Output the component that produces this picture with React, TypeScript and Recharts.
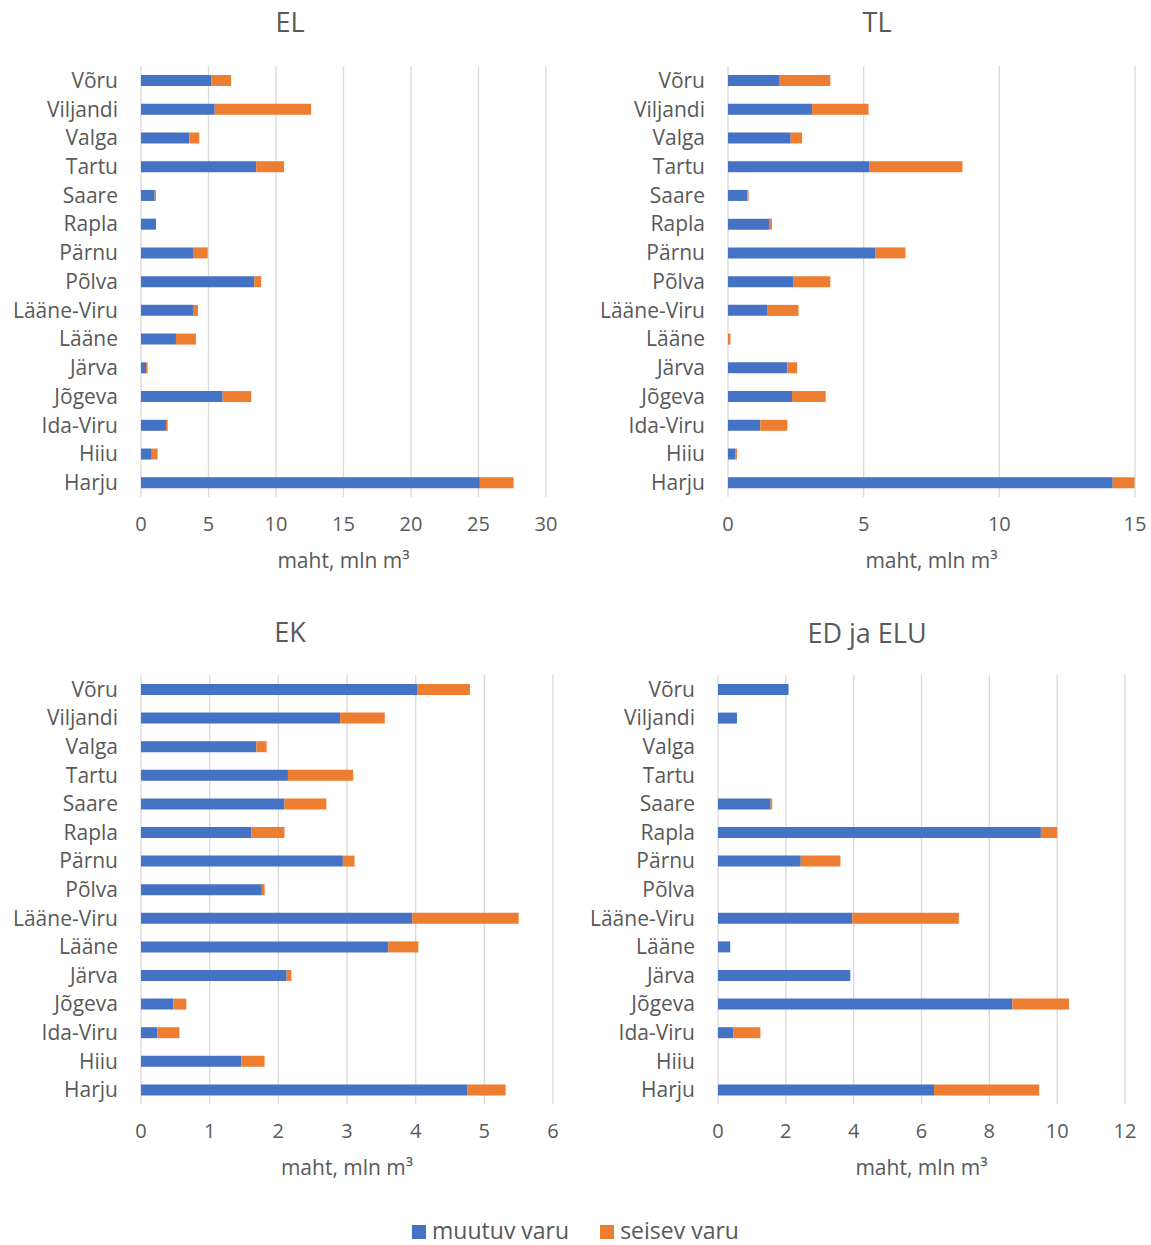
import { BarChart, Bar, XAxis, YAxis, CartesianGrid } from 'recharts';

// maakonnad ülevalt alla
const categories = [
  'Võru', 'Viljandi', 'Valga', 'Tartu', 'Saare', 'Rapla', 'Pärnu', 'Põlva',
  'Lääne-Viru', 'Lääne', 'Järva', 'Jõgeva', 'Ida-Viru', 'Hiiu', 'Harju',
];

const elMuutuv = [5.2, 5.46, 3.58, 8.54, 1.01, 1.11, 3.85, 8.4, 3.85, 2.59, 0.37, 6.05, 1.85, 0.74, 25.1];
const elSeisev = [1.47, 7.14, 0.74, 2.06, 0.1, 0, 1.09, 0.5, 0.37, 1.48, 0.12, 2.12, 0.13, 0.49, 2.5];

const tlMuutuv = [1.88, 3.1, 2.31, 5.2, 0.71, 1.51, 5.44, 2.42, 1.44, 0, 2.19, 2.36, 1.19, 0.28, 14.18];
const tlSeisev = [1.89, 2.08, 0.42, 3.44, 0.05, 0.11, 1.1, 1.35, 1.16, 0.09, 0.36, 1.24, 1.0, 0.05, 0.8];

const ekMuutuv = [4.02, 2.9, 1.68, 2.14, 2.09, 1.61, 2.94, 1.76, 3.95, 3.6, 2.12, 0.47, 0.24, 1.46, 4.75];
const ekSeisev = [0.77, 0.65, 0.15, 0.95, 0.61, 0.48, 0.17, 0.04, 1.55, 0.44, 0.07, 0.19, 0.32, 0.34, 0.56];

const edMuutuv = [2.08, 0.56, 0, 0, 1.55, 9.52, 2.44, 0, 3.96, 0.36, 3.9, 8.68, 0.46, 0, 6.37];
const edSeisev = [0, 0, 0, 0, 0.05, 0.48, 1.17, 0, 3.14, 0, 0, 1.67, 0.79, 0, 3.1];

const elTicks = [0, 5, 10, 15, 20, 25, 30];
const tlTicks = [0, 5, 10, 15];
const ekTicks = [0, 1, 2, 3, 4, 5, 6];
const edTicks = [0, 2, 4, 6, 8, 10, 12];

const BLUE = '#4472c4';
const ORANGE = '#ed7d31';
const TEXT = '#595959';
const GRID = '#d9d9d9';
const FONT = '"Open Sans", "Noto Sans", sans-serif';
const AXIS_TITLE = 'maht, mln m³';

const buildRows = (muutuv: number[], seisev: number[]) =>
  categories.map((name, i) => ({ name, muutuv: muutuv[i], seisev: seisev[i] }));

interface PanelProps {
  title: string;
  titleX: number;
  titleY: number;
  left: number;
  top: number;
  yAxisWidth: number;
  marginTop: number;
  marginRight: number;
  marginBottom: number;
  muutuv: number[];
  seisev: number[];
  ticks: number[];
}

function Panel(p: PanelProps) {
  const data = buildRows(p.muutuv, p.seisev);
  const max = p.ticks[p.ticks.length - 1];
  return (
    <>
      <div
        style={{
          position: 'absolute',
          left: p.titleX - 150,
          top: p.titleY - 18,
          width: 300,
          textAlign: 'center',
          fontSize: 27,
          lineHeight: '36px',
          color: TEXT,
        }}
      >
        {p.title}
      </div>
      <div style={{ position: 'absolute', left: p.left, top: p.top }}>
        <BarChart
          width={575}
          height={600}
          data={data}
          layout="vertical"
          barSize={11}
          margin={{ top: p.marginTop, right: p.marginRight, bottom: p.marginBottom, left: 0 }}
        >
          <CartesianGrid horizontal={false} stroke={GRID} strokeWidth={1.3} />
          <XAxis
            type="number"
            domain={[0, max]}
            ticks={p.ticks}
            axisLine={false}
            tickLine={false}
            tickSize={0}
            tickMargin={20}
            height={70}
            tick={{ fill: TEXT, fontSize: 20 }}
            label={{ value: AXIS_TITLE, position: 'insideBottom', offset: -1, fill: TEXT, fontSize: 21 }}
          />
          <YAxis
            type="category"
            dataKey="name"
            width={p.yAxisWidth}
            axisLine={false}
            tickLine={false}
            tickSize={0}
            tickMargin={23}
            interval={0}
            tick={{ fill: TEXT, fontSize: 21 }}
          />
          <Bar dataKey="muutuv" stackId="a" fill={BLUE} isAnimationActive={false} />
          <Bar dataKey="seisev" stackId="a" fill={ORANGE} isAnimationActive={false} />
        </BarChart>
      </div>
    </>
  );
}

export default function App() {
  return (
    <div
      style={{
        position: 'absolute',
        left: 0,
        top: 0,
        width: 1151,
        height: 1245,
        background: '#fff',
        fontFamily: FONT,
        overflow: 'hidden',
      }}
    >
      <Panel
        title="EL" titleX={290} titleY={22} left={0} top={0}
        yAxisWidth={141} marginTop={66} marginRight={29} marginBottom={33}
        muutuv={elMuutuv} seisev={elSeisev} ticks={elTicks}
      />
      <Panel
        title="TL" titleX={877} titleY={22} left={576} top={0}
        yAxisWidth={152} marginTop={66} marginRight={16} marginBottom={33}
        muutuv={tlMuutuv} seisev={tlSeisev} ticks={tlTicks}
      />
      <Panel
        title="EK" titleX={290} titleY={632} left={0} top={600}
        yAxisWidth={141} marginTop={75} marginRight={22} marginBottom={26}
        muutuv={ekMuutuv} seisev={ekSeisev} ticks={ekTicks}
      />
      <Panel
        title="ED ja ELU" titleX={867} titleY={633} left={576} top={600}
        yAxisWidth={142} marginTop={75} marginRight={26} marginBottom={26}
        muutuv={edMuutuv} seisev={edSeisev} ticks={edTicks}
      />
      {/* ühine legend */}
      <div
        style={{
          position: 'absolute',
          left: 0,
          top: 1215,
          width: 1151,
          height: 30,
          display: 'flex',
          justifyContent: 'center',
          gap: 31,
          fontSize: 23,
          color: TEXT,
          lineHeight: '30px',
        }}
      >
        <span style={{ display: 'flex', alignItems: 'center' }}>
          <span style={{ width: 14, height: 14, marginTop: 4, background: BLUE, marginRight: 6 }} />
          muutuv varu
        </span>
        <span style={{ display: 'flex', alignItems: 'center' }}>
          <span style={{ width: 14, height: 14, marginTop: 4, background: ORANGE, marginRight: 6 }} />
          seisev varu
        </span>
      </div>
    </div>
  );
}
